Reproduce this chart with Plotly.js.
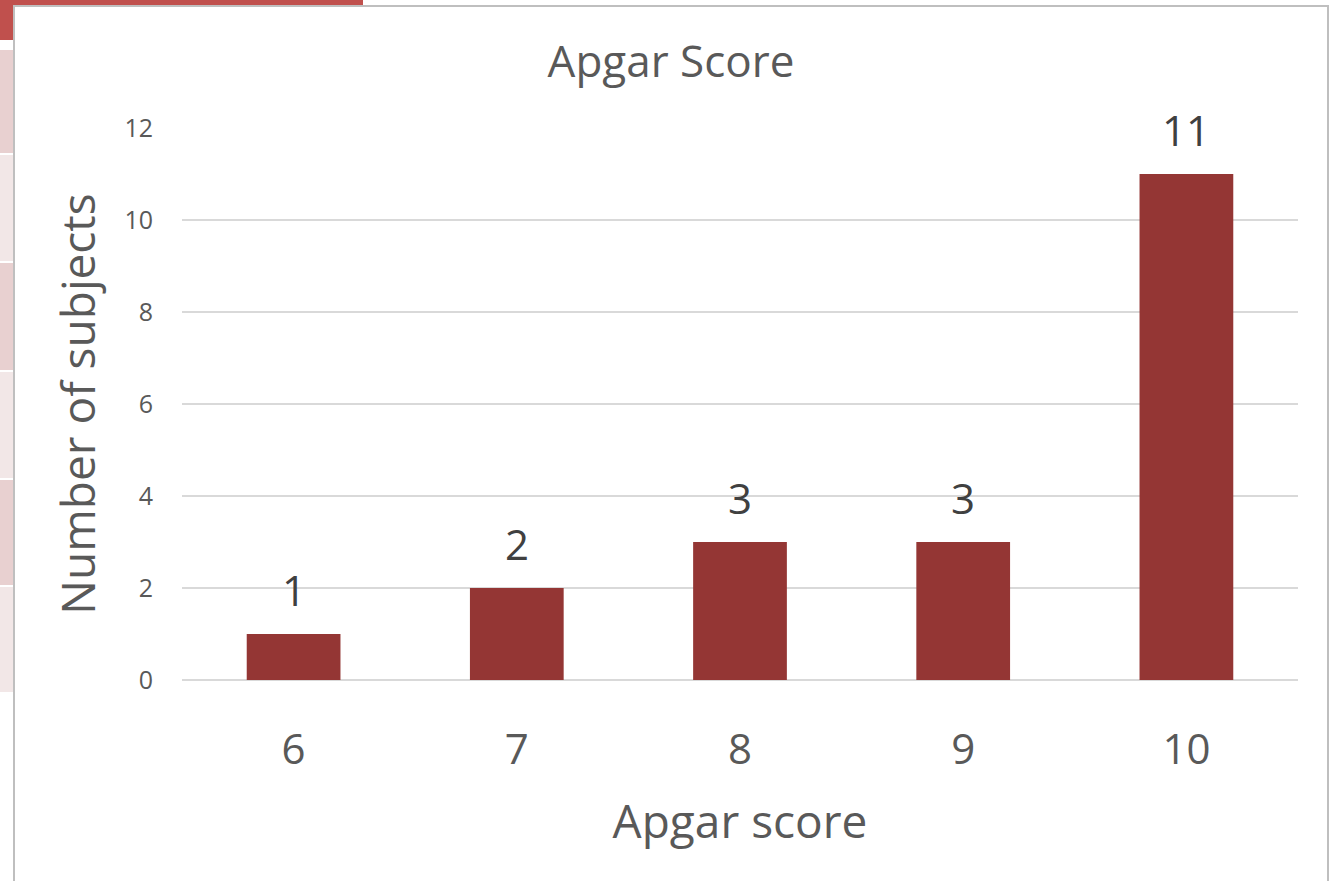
<!DOCTYPE html>
<html>
<head>
<meta charset="utf-8">
<script src="https://cdn.plot.ly/plotly-3.0.1.min.js"></script>
<style>
  html, body { margin: 0; padding: 0; background: #fff; }
  #chart { width: 1342px; height: 881px; }
</style>
</head>
<body>
<div id="chart"></div>
<script>
// Apgar score distribution
const scores = ["6", "7", "8", "9", "10"];
const subjects = [1, 2, 3, 3, 11];
const yTicks = [0, 2, 4, 6, 8, 10, 12];

const barColor = "#943634";
const font = "Open Sans, sans-serif";

// plot area in pixels (used only to place the decorative background)
const M = { l: 182, r: 44, t: 128, b: 201 };
const plotW = 1342 - M.l - M.r, plotH = 881 - M.t - M.b;
const px = x => (x - M.l) / plotW;
const py = y => (881 - M.b - y) / plotH;

// bits of the table peeking out from behind the chart
const stripes = [
  [50, 153, "#e8d0d0"],
  [155, 261, "#f2e7e7"],
  [263, 370, "#e8d0d0"],
  [372, 478, "#f2e7e7"],
  [480, 585, "#e8d0d0"],
  [587, 692, "#f2e7e7"]
];

const shapes = [
  { type: "rect", xref: "paper", yref: "paper", x0: px(0), x1: px(14), y0: py(40), y1: py(0),
    fillcolor: "#c0504d", line: { width: 0 }, layer: "below" },
  { type: "rect", xref: "paper", yref: "paper", x0: px(0), x1: px(363), y0: py(6), y1: py(0),
    fillcolor: "#c0504d", line: { width: 0 }, layer: "below" },
  ...stripes.map(([a, b, c]) => ({
    type: "rect", xref: "paper", yref: "paper", x0: px(0), x1: px(14), y0: py(b), y1: py(a),
    fillcolor: c, line: { width: 0 }, layer: "below"
  })),
  // chart frame
  { type: "rect", xref: "paper", yref: "paper", x0: px(14), x1: px(1328), y0: py(900), y1: py(6),
    fillcolor: "#ffffff", line: { color: "#bfbfbf", width: 2 }, layer: "below" }
];

// value labels above bars (category index on x)
const labels = scores.map((s, i) => ({
  x: i, y: subjects[i], xref: "x", yref: "y",
  text: String(subjects[i]), showarrow: false,
  yanchor: "bottom", yshift: 14,
  font: { family: font, size: 42, color: "#404040" }
}));

const trace = {
  type: "bar",
  x: scores,
  y: subjects,
  width: 0.42,
  marker: { color: barColor },
  hoverinfo: "x+y"
};

const layout = {
  width: 1342,
  height: 881,
  margin: M,
  paper_bgcolor: "#ffffff",
  plot_bgcolor: "rgba(0,0,0,0)",
  showlegend: false,
  title: {
    text: "Apgar Score",
    font: { family: font, size: 44, color: "#595959" },
    x: 0.5, xanchor: "center",
    y: 0.93, yanchor: "middle"
  },
  xaxis: {
    type: "category",
    range: [-0.5, scores.length - 0.5],
    tickfont: { family: font, size: 42, color: "#595959" },
    ticks: "",
    showline: false,
    showgrid: false,
    ticklabelstandoff: 41,
    title: { text: "Apgar score", font: { family: font, size: 46, color: "#595959" }, standoff: 30 }
  },
  yaxis: {
    range: [0, 12],
    tickvals: yTicks,
    tickfont: { family: font, size: 25, color: "#595959" },
    gridcolor: "#d9d9d9",
    gridwidth: 1.5,
    zeroline: true,
    zerolinecolor: "#d9d9d9",
    zerolinewidth: 1.5,
    showline: false,
    ticks: "",
    ticklabelstandoff: 28,
    title: { text: "Number of subjects", font: { family: font, size: 46, color: "#595959" }, standoff: 14 }
  },
  annotations: labels,
  shapes
};

Plotly.newPlot("chart", [trace], layout, { displayModeBar: false, staticPlot: true });
</script>
</body>
</html>
